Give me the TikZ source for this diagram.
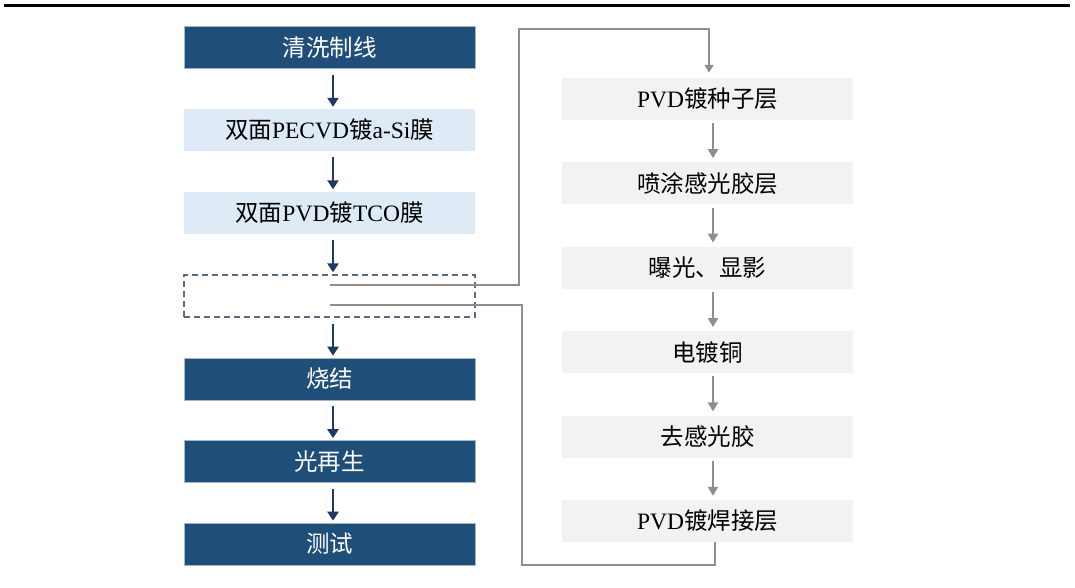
\documentclass[tikz,border=0pt]{standalone}
\usepackage{fontspec}
\setmainfont{Liberation Serif}
\newfontfamily\cjk{Noto Sans CJK SC}
\usetikzlibrary{arrows.meta}
\definecolor{dkblue}{HTML}{1F4E79}
\definecolor{ltblue}{HTML}{DEEBF7}
\definecolor{ltgray}{HTML}{F2F2F2}
\definecolor{arrblue}{HTML}{203864}
\definecolor{lnggray}{HTML}{8E8E8E}
\definecolor{dashc}{HTML}{5A6B86}
\tikzset{
  box/.style={minimum width=291pt,minimum height=42pt,inner sep=0pt,font=\fontsize{23.5}{25}\selectfont},
  dbox/.style={box,fill=dkblue,draw=dkblue!40!white,line width=0.6pt,text=white},
  lbox/.style={box,fill=ltblue,text=black},
  gbox/.style={box,fill=ltgray,text=black},
  dshbox/.style={box,draw=dashc,dash pattern=on 6pt off 4pt,line width=1.3pt},
  darr/.style={draw=arrblue,line width=2.8pt,-{Triangle[width=11pt,length=9pt]}},
  garr/.style={draw=lnggray,line width=2.5pt,-{Triangle[width=10pt,length=9pt]}},
  gline/.style={draw=lnggray,line width=1.8pt},
}
\begin{document}
\begin{tikzpicture}[x=1pt,y=-1pt]
\useasboundingbox (0,0) rectangle (1075,587);
\fill[white] (0,0) rectangle (1075,587);
\draw[line width=3pt] (4,5.5) -- (1070,5.5);
% left column
\node[dbox] (a) at (329.5,47.5) {\cjk 清洗制线};
\node[lbox] (b) at (329.5,130) {{\cjk 双面}PECVD{\cjk 镀}a-Si{\cjk 膜}};
\node[lbox] (c) at (329.5,212.5) {{\cjk 双面}PVD{\cjk 镀}TCO{\cjk 膜}};
\node[dshbox] (d) at (329.5,296) {};
\node[dbox] (e) at (329.5,379) {\cjk 烧结};
\node[dbox] (f) at (329.5,461.5) {\cjk 光再生};
\node[dbox] (g) at (329.5,544) {\cjk 测试};
% right column
\node[gbox] (s1) at (707.5,99) {PVD{\cjk 镀种子层}};
\node[gbox] (s2) at (707.5,183.4) {\cjk 喷涂感光胶层};
\node[gbox] (s3) at (707.5,267.8) {\cjk 曝光、显影};
\node[gbox] (s4) at (707.5,352.2) {\cjk 电镀铜};
\node[gbox] (s5) at (707.5,436.6) {\cjk 去感光胶};
\node[gbox] (s6) at (707.5,521) {PVD{\cjk 镀焊接层}};
% dark arrows
\foreach \p/\q in {a/b,b/c,c/d,d/e,e/f,f/g}
  \draw[darr] ([xshift=3.5pt,yshift=-6pt]\p.south) -- ([xshift=3.5pt,yshift=2pt]\q.north);
% gray arrows
\foreach \p/\q in {s1/s2,s2/s3,s3/s4,s4/s5,s5/s6}
  \draw[garr] ([xshift=5.5pt,yshift=-3pt]\p.south) -- ([xshift=5.5pt,yshift=4pt]\q.north);
% connectors
\coordinate (cA) at (519,29);
\coordinate (cB) at (522,565);
\draw[gline,-{Triangle[width=9pt,length=8pt]}] ([yshift=11pt]d.center) -| (cA) -| ([xshift=1.5pt,yshift=5pt]s1.north);
\draw[gline] ([yshift=-9pt]d.center) -| (cB) -| ([xshift=7.5pt]s6.south);
\end{tikzpicture}
\end{document}
